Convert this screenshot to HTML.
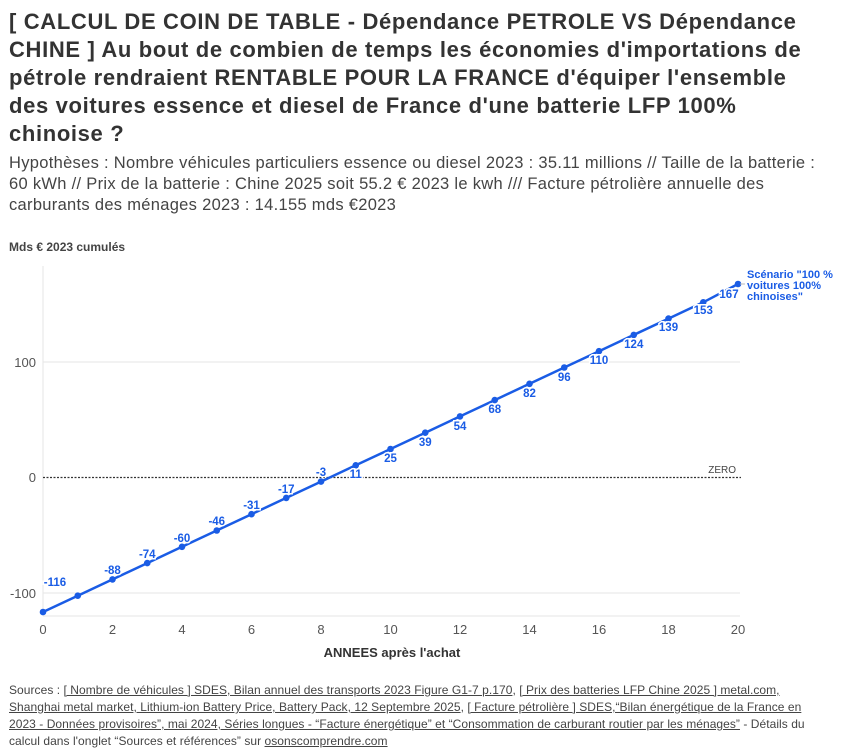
<!DOCTYPE html>
<html><head><meta charset="utf-8"><style>
body{margin:0;width:850px;height:751px;background:#fff;font-family:"Liberation Sans",sans-serif;color:#333;overflow:hidden}
.t{position:absolute;left:9px;top:8px;width:845px;font-weight:bold;font-size:22px;letter-spacing:0.65px;line-height:28px;color:#333;white-space:nowrap}
.s{position:absolute;left:9px;top:153px;width:845px;font-size:16.5px;letter-spacing:0.3px;line-height:21px;color:#444;white-space:nowrap}
.src{position:absolute;left:9px;top:682px;width:845px;font-size:12px;letter-spacing:0.05px;line-height:17px;color:#444;white-space:nowrap}
.src u{text-decoration:underline}
svg{position:absolute;left:0;top:0}
</style></head><body>
<div class="t">[ CALCUL DE COIN DE TABLE - Dépendance PETROLE VS Dépendance<br>CHINE ] Au bout de combien de temps les économies d'importations de<br>pétrole rendraient RENTABLE POUR LA FRANCE d'équiper l'ensemble<br>des voitures essence et diesel de France d'une batterie LFP 100%<br>chinoise ?</div>
<div class="s">Hypothèses : Nombre véhicules particuliers essence ou diesel 2023 : 35.11 millions // Taille de la batterie :<br>60 kWh // Prix de la batterie : Chine 2025 soit 55.2 € 2023 le kwh /// Facture pétrolière annuelle des<br>carburants des ménages 2023 : 14.155 mds €2023</div>
<svg width="850" height="751" font-family="Liberation Sans, sans-serif">
<text x="9" y="251" font-size="12" font-weight="bold" fill="#444">Mds € 2023 cumulés</text>
<line x1="43" y1="266" x2="43" y2="616" stroke="#e6e6e6"/>
<line x1="43" y1="362" x2="740" y2="362" stroke="#e6e6e6"/>
<line x1="43" y1="593" x2="740" y2="593" stroke="#e6e6e6"/>
<line x1="43" y1="616" x2="740" y2="616" stroke="#e6e6e6"/>
<line x1="43" y1="477.5" x2="741" y2="477.5" stroke="#333" stroke-dasharray="2,1.5" stroke-width="1.3"/>
<text x="736" y="473" font-size="10" fill="#444" text-anchor="end">ZERO</text>
<g font-size="13" fill="#555" text-anchor="end">
<text x="36" y="367">100</text><text x="36" y="482">0</text><text x="36" y="598">-100</text>
</g>
<g font-size="13" fill="#555" text-anchor="middle">
<text x="43" y="634">0</text><text x="112.5" y="634">2</text><text x="182" y="634">4</text><text x="251.5" y="634">6</text><text x="321" y="634">8</text><text x="390.5" y="634">10</text><text x="460" y="634">12</text><text x="529.5" y="634">14</text><text x="599" y="634">16</text><text x="668.5" y="634">18</text><text x="738" y="634">20</text>
</g>
<text x="392" y="657" font-size="13" font-weight="bold" fill="#333" text-anchor="middle">ANNEES après l'achat</text>
<polyline fill="none" stroke="#1a5ce5" stroke-width="2.5" points="43,612 77.75,595.7 112.5,579.4 147.25,563.1 182,546.8 216.75,530.5 251.5,514.2 286.25,497.9 321,481.6 355.75,465.3 390.5,449 425.25,432.7 460,416.4 494.75,400.1 529.5,383.8 564.25,367.5 599,351.2 633.75,334.9 668.5,318.6 703.25,302.3 738,284"/>
<g fill="#1a5ce5">
<circle cx="43" cy="612" r="3.3"/><circle cx="77.75" cy="595.7" r="3.3"/><circle cx="112.5" cy="579.4" r="3.3"/><circle cx="147.25" cy="563.1" r="3.3"/><circle cx="182" cy="546.8" r="3.3"/><circle cx="216.75" cy="530.5" r="3.3"/><circle cx="251.5" cy="514.2" r="3.3"/><circle cx="286.25" cy="497.9" r="3.3"/><circle cx="321" cy="481.6" r="3.3"/><circle cx="355.75" cy="465.3" r="3.3"/><circle cx="390.5" cy="449" r="3.3"/><circle cx="425.25" cy="432.7" r="3.3"/><circle cx="460" cy="416.4" r="3.3"/><circle cx="494.75" cy="400.1" r="3.3"/><circle cx="529.5" cy="383.8" r="3.3"/><circle cx="564.25" cy="367.5" r="3.3"/><circle cx="599" cy="351.2" r="3.3"/><circle cx="633.75" cy="334.9" r="3.3"/><circle cx="668.5" cy="318.6" r="3.3"/><circle cx="703.25" cy="302.3" r="3.3"/><circle cx="738" cy="284" r="3.3"/>
</g>
<g font-size="11.5" font-weight="bold" fill="#1a5ce5" text-anchor="middle" stroke="#fff" stroke-width="3" paint-order="stroke">
<text x="55" y="586">-116</text><text x="112.5" y="574">-88</text><text x="147.25" y="558">-74</text><text x="182" y="542">-60</text><text x="216.75" y="525">-46</text><text x="251.5" y="509">-31</text><text x="286.25" y="493">-17</text><text x="321" y="476">-3</text>
<text x="355.75" y="478">11</text><text x="390.5" y="462">25</text><text x="425.25" y="446">39</text><text x="460" y="430">54</text><text x="494.75" y="413">68</text><text x="529.5" y="397">82</text><text x="564.25" y="381">96</text><text x="599" y="364">110</text><text x="633.75" y="348">124</text><text x="668.5" y="331">139</text><text x="703.25" y="314">153</text><text x="729" y="298">167</text>
</g>
<line x1="740" y1="284" x2="745" y2="284" stroke="#bbb"/>
<g font-size="11" font-weight="bold" fill="#1a5ce5">
<text x="747" y="278">Scénario "100 %</text><text x="747" y="289">voitures 100%</text><text x="747" y="300">chinoises"</text>
</g>
</svg>
<div class="src">Sources : <u>[ Nombre de véhicules ] SDES, Bilan annuel des transports 2023 Figure G1-7 p.170</u>, <u>[ Prix des batteries LFP Chine 2025 ] metal.com,</u><br><u>Shanghai metal market, Lithium-ion Battery Price, Battery Pack, 12 Septembre 2025</u>, <u>[ Facture pétrolière ] SDES,“Bilan énergétique de la France en</u><br><u>2023 - Données provisoires”, mai 2024, Séries longues - “Facture énergétique” et “Consommation de carburant routier par les ménages”</u> - Détails du<br>calcul dans l'onglet “Sources et références” sur <u>osonscomprendre.com</u></div>
</body></html>
